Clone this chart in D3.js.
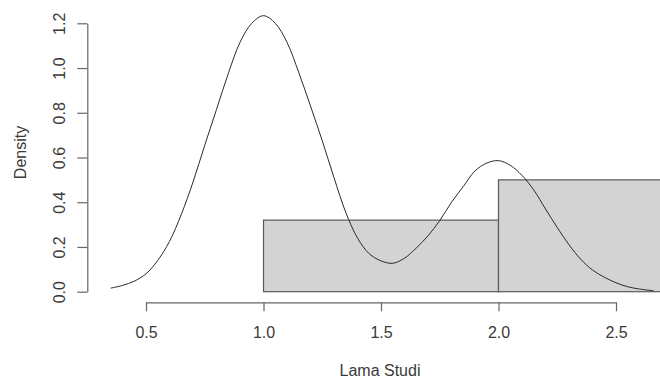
<!DOCTYPE html>
<html>
<head>
<meta charset="utf-8">
<script src="https://cdn.jsdelivr.net/npm/d3@7"></script>
<style>
  html, body { margin: 0; padding: 0; background: #fff; }
  svg { display: block; font-family: "Liberation Sans", Arial, sans-serif; }
</style>
</head>
<body>
<svg id="chart" width="660" height="378"></svg>
<script>
/* Histogram (density scale) of "Lama Studi" with a kernel density line on top */

// histogram bins: breaks and densities
var binStart = [1.0, 2.0];
var binEnd = [2.0, 3.0];
var binDensity = [0.32, 0.50];

// density curve
var densX = [0.35, 0.40, 0.45, 0.50, 0.55, 0.60, 0.65, 0.70, 0.75, 0.80,
             0.85, 0.90, 0.95, 1.00, 1.05, 1.10, 1.15, 1.20, 1.25, 1.30,
             1.35, 1.40, 1.45, 1.50, 1.55, 1.60, 1.65, 1.70, 1.75, 1.80,
             1.85, 1.90, 1.95, 2.00, 2.05, 2.10, 2.15, 2.20, 2.25, 2.30,
             2.35, 2.40, 2.45, 2.50, 2.55, 2.60, 2.66];
var densY = [0.016, 0.028, 0.047, 0.080, 0.140, 0.225, 0.345, 0.490, 0.655, 0.815,
             0.975, 1.115, 1.200, 1.234, 1.200, 1.115, 0.980, 0.830, 0.675, 0.510,
             0.355, 0.240, 0.170, 0.138, 0.127, 0.150, 0.195, 0.250, 0.318, 0.400,
             0.470, 0.540, 0.575, 0.586, 0.565, 0.520, 0.455, 0.370, 0.287, 0.210,
             0.145, 0.097, 0.065, 0.040, 0.022, 0.012, 0.004];

var xTicks = [0.5, 1.0, 1.5, 2.0, 2.5];
var yTicks = [0.0, 0.2, 0.4, 0.6, 0.8, 1.0, 1.2];
var xTitle = 'Lama Studi';
var yTitle = 'Density';

(function () {
  var svg = d3.select('#chart');
  var axisCol = '#666', textCol = '#3a3a3a';

  var x = d3.scaleLinear().domain([0.5, 2.5]).range([146, 616]);
  var y = d3.scaleLinear().domain([0, 1.2]).range([291.7, 23.3]);

  /* bars */
  var bins = binStart.map(function (s, i) { return { x0: s, x1: binEnd[i], d: binDensity[i] }; });
  svg.append('g').selectAll('rect').data(bins).enter().append('rect')
    .attr('x', function (b) { return x(b.x0); })
    .attr('y', function (b) { return y(b.d); })
    .attr('width', function (b) { return x(b.x1) - x(b.x0); })
    .attr('height', function (b) { return y(0) - y(b.d); })
    .attr('fill', '#d3d3d3')
    .attr('stroke', '#5a5a5a')
    .attr('stroke-width', 1.2);

  /* density line */
  var pts = densX.map(function (v, i) { return [v, densY[i]]; });
  var line = d3.line()
    .x(function (p) { return x(p[0]); })
    .y(function (p) { return y(p[1]); })
    .curve(d3.curveCatmullRom.alpha(0.5));
  svg.append('path').datum(pts)
    .attr('d', line)
    .attr('fill', 'none')
    .attr('stroke', '#2a2a2a')
    .attr('stroke-width', 1);

  /* x axis */
  var gx = svg.append('g').attr('transform', 'translate(0,302.3)')
    .call(d3.axisBottom(x).tickValues(xTicks).tickFormat(d3.format('.1f'))
      .tickSize(9).tickSizeOuter(0).tickPadding(15));
  gx.select('.domain').attr('stroke', axisCol).attr('stroke-width', 1.2);
  gx.selectAll('.tick line').attr('stroke', axisCol).attr('stroke-width', 1.2);
  gx.selectAll('.tick text').attr('fill', textCol).style('font-size', '16px');

  /* y axis, labels turned like R does */
  var gy = svg.append('g').attr('transform', 'translate(87.3,0)')
    .call(d3.axisLeft(y).tickValues(yTicks).tickFormat(d3.format('.1f'))
      .tickSize(10).tickSizeOuter(0));
  gy.select('.domain').attr('stroke', axisCol).attr('stroke-width', 1.2);
  gy.selectAll('.tick line').attr('stroke', axisCol).attr('stroke-width', 1.2);
  gy.selectAll('.tick text')
    .attr('x', null).attr('dy', null)
    .attr('transform', 'translate(-22.3,0) rotate(-90)')
    .attr('text-anchor', 'middle')
    .attr('fill', textCol).style('font-size', '16px');

  /* titles */
  svg.append('text')
    .attr('x', 380).attr('y', 375.5)
    .attr('text-anchor', 'middle')
    .attr('fill', textCol).style('font-size', '16px')
    .text(xTitle);

  svg.append('text')
    .attr('transform', 'translate(26,152.5) rotate(-90)')
    .attr('text-anchor', 'middle')
    .attr('fill', textCol).style('font-size', '16px')
    .text(yTitle);
})();
</script>
</body>
</html>
